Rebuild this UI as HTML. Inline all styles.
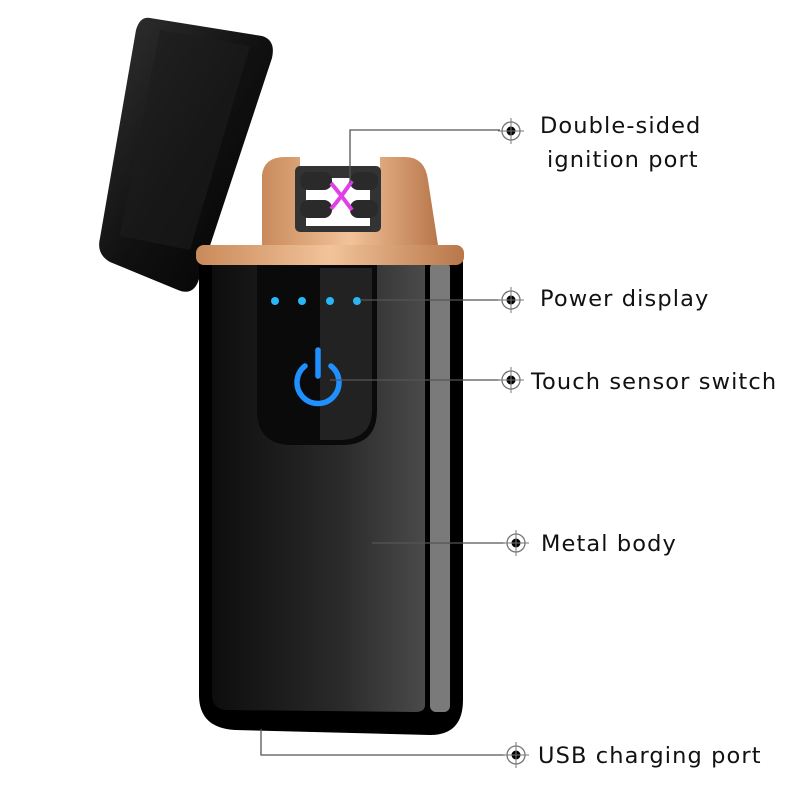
<!DOCTYPE html>
<html><head><meta charset="utf-8"><style>
html,body{margin:0;padding:0;background:#fff;width:800px;height:800px;overflow:hidden}
text{font-family:"DejaVu Sans","Liberation Sans",sans-serif;font-size:22.5px;fill:#111;letter-spacing:1.1px}
</style></head><body>
<svg width="800" height="800" viewBox="0 0 800 800" xmlns="http://www.w3.org/2000/svg">
<defs>
<linearGradient id="bd" x1="0" x2="1" y1="0" y2="0">
<stop offset="0" stop-color="#0d0d0d"/><stop offset="0.6" stop-color="#2a2a2a"/><stop offset="1" stop-color="#4a4a4a"/></linearGradient>
<linearGradient id="cu" x1="0" x2="1"><stop offset="0" stop-color="#c98a5a"/><stop offset="0.5" stop-color="#f2c39a"/><stop offset="1" stop-color="#b8774a"/></linearGradient>
<linearGradient id="lid" x1="0" x2="1" y1="0" y2="1"><stop offset="0" stop-color="#333"/><stop offset="0.5" stop-color="#111"/><stop offset="1" stop-color="#000"/></linearGradient>
<g id="tg"><circle r="9" fill="none" stroke="#777" stroke-width="1.3"/><circle r="4.5" fill="#000"/><line x1="-13" x2="13" y1="0" y2="0" stroke="#777" stroke-width="1"/><line y1="-13" y2="13" x1="0" x2="0" stroke="#777" stroke-width="1"/></g>
</defs>
<!-- lid -->
<path d="M150,18 L262,36 Q276,40 272,58 L198,282 Q192,296 178,290 L110,262 Q96,254 100,238 L136,30 Q140,16 150,18Z" fill="url(#lid)"/>
<path d="M160,30 L250,46 L190,250 L120,236Z" fill="#1c1c1c" opacity="0.6"/>
<!-- copper top -->
<path d="M262,245 L262,175 Q264,157 285,157 L300,157 L300,168 L380,168 L380,157 L405,157 Q425,157 428,180 L438,245Z" fill="url(#cu)"/>
<rect x="295" y="166" width="86" height="66" rx="5" fill="#333"/>
<rect x="306" y="178" width="64" height="48" fill="#fff"/>
<rect x="300" y="172" width="32" height="18" rx="8" fill="#2a2a2a"/>
<rect x="300" y="200" width="32" height="18" rx="8" fill="#2a2a2a"/>
<rect x="350" y="172" width="28" height="18" rx="8" fill="#2a2a2a"/>
<rect x="350" y="200" width="28" height="18" rx="8" fill="#2a2a2a"/>
<path d="M331,183 Q342,196 352,210 M352,181 Q342,196 331,209" stroke="#e040e8" stroke-width="4" fill="none"/>
<!-- body -->
<path d="M199,258 L463,258 L463,700 Q463,735 430,735 L235,730 Q199,728 199,695Z" fill="#000"/>
<path d="M212,265 L425,265 L425,705 Q425,712 415,712 L225,710 Q212,708 212,695Z" fill="url(#bd)"/>
<rect x="430" y="262" width="20" height="450" rx="6" fill="#7a7a7a"/>
<rect x="196" y="245" width="268" height="20" rx="8" fill="url(#cu)"/>
<!-- display -->
<path d="M257,265 L377,265 L377,410 Q377,445 342,445 L292,445 Q257,445 257,410Z" fill="#0a0a0a"/>
<path d="M320,268 L372,268 L372,410 Q372,438 342,440 L320,440Z" fill="#222"/>
<g fill="#29b6f6"><circle cx="275" cy="301" r="4"/><circle cx="302" cy="301" r="4"/><circle cx="330" cy="301" r="4"/><circle cx="357" cy="301" r="4"/></g>
<path d="M305,366 A21,21 0 1,0 331,366" stroke="#1e90ff" stroke-width="5.5" fill="none" stroke-linecap="round"/>
<line x1="318" y1="350" x2="318" y2="376" stroke="#1e90ff" stroke-width="5.5" stroke-linecap="round"/>
<!-- leaders -->
<g stroke="#555" stroke-width="1.3" fill="none">
<polyline points="350,183 350,130 500,130"/>
<line x1="360" y1="300" x2="500" y2="300"/>
<line x1="330" y1="380" x2="500" y2="380"/>
<line x1="372" y1="543" x2="505" y2="543"/>
<polyline points="261,729 261,755 505,755"/>
</g>
<use href="#tg" x="511" y="131"/>
<use href="#tg" x="511" y="300"/>
<use href="#tg" x="511" y="380"/>
<use href="#tg" x="516" y="543"/>
<use href="#tg" x="516" y="755"/>
<text x="540" y="133">Double-sided</text>
<text x="547" y="167">ignition port</text>
<text x="540" y="306">Power display</text>
<text x="531" y="389">Touch sensor switch</text>
<text x="541" y="551">Metal body</text>
<text x="538" y="763">USB charging port</text>
</svg>
</body></html>
